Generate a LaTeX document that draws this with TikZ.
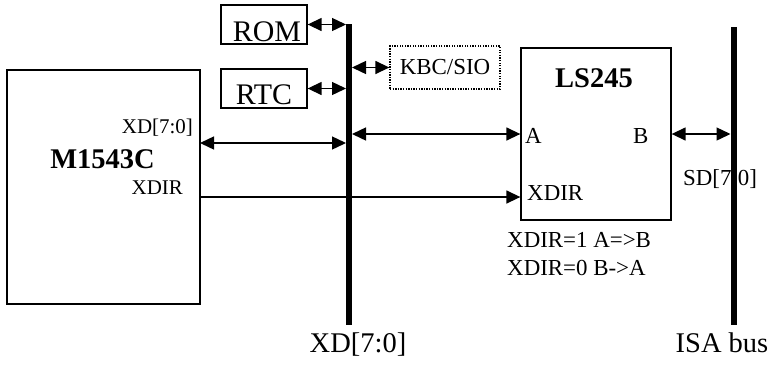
\documentclass[tikz,border=0pt]{standalone}
\usepackage{fontspec}
\setmainfont{Liberation Serif}
\usepackage{tikz}
\usetikzlibrary{arrows.meta,calc}
\newcommand{\pinfont}{\fontsize{23}{25}\selectfont}
\newcommand{\chipfont}{\fontsize{28.6}{30}\selectfont\bfseries}
\newcommand{\busfont}{\fontsize{28.6}{30}\selectfont}
\newcommand{\romfont}{\fontsize{30}{32}\selectfont}
\tikzset{
  chip/.style={draw,line width=1.3bp,inner sep=0pt},
  link/.style={line width=1.4bp},
  tip/.tip={Triangle[length=14bp,width=13bp]},
  both/.style={arrows={tip-tip}},
  into/.style={arrows={-tip}},
  busline/.style={line width=6bp},
}
\begin{document}
\begin{tikzpicture}[line join=miter,x=1bp,y=-1bp]
\useasboundingbox (0,0) rectangle (770,371);
\node[chip,minimum width=193bp,minimum height=234bp] (m1543c) at (103.5,187) {};
\node[chip,minimum width=86bp,minimum height=39bp] (rom) at (264,24.5) {};
\node[chip,minimum width=86bp,minimum height=39bp] (rtc) at (264,88.5) {};
\node[draw,line width=1.3bp,dash pattern=on 1.3bp off 1.3bp,inner sep=0pt,minimum width=110bp,minimum height=43bp,font=\pinfont] (kbc) at (445,67.5) {KBC/SIO};
\node[chip,minimum width=150bp,minimum height=172bp] (ls245) at (596,134) {};
% texts
\node[anchor=base,inner sep=0pt,font=\chipfont] (m1543cname) at (102.5,168) {M1543C};
\node[anchor=base east,inner sep=0pt,font=\fontsize{21}{23}\selectfont] (xdname) at (193,133) {XD[7:0]};
\node[anchor=base east,inner sep=0pt,font=\fontsize{21}{23}\selectfont] (xdirname) at (183,194) {XDIR};
\node[anchor=base,inner sep=0pt,font=\romfont] (romname) at (267,41) {ROM};
\node[anchor=base,inner sep=0pt,font=\romfont] (rtcname) at (264,104.5) {RTC};
\node[anchor=base,inner sep=0pt,font=\chipfont] (ls245name) at (594,87) {LS245};
\node[anchor=base west,inner sep=0pt,font=\pinfont] (aname) at (525,143) {A};
\node[anchor=base west,inner sep=0pt,font=\pinfont] (bname) at (633,143) {B};
\node[anchor=base west,inner sep=0pt,font=\pinfont] (dirname) at (527,200) {XDIR};
\node[anchor=base west,inner sep=0pt,font=\pinfont] (truth1) at (507,247) {XDIR=1 A=>B};
\node[anchor=base west,inner sep=0pt,font=\pinfont] (truth0) at (507,275) {XDIR=0 B->A};
\node[anchor=base west,inner sep=0pt,font=\pinfont] (sdname) at (683,185) {SD[7:0]};
\node[anchor=base,inner sep=0pt,font=\busfont] (xdbus) at (358,352) {XD[7:0]};
\node[anchor=base,inner sep=0pt,font=\busfont] (isabus) at (722,352) {ISA bus};
% buses
\coordinate (xdtop) at (349,24);
\coordinate (xdbot) at (349,325);
\coordinate (isatop) at (733.5,27);
\coordinate (isabot) at (733.5,325);
\coordinate (xdpin) at (200,143);
\coordinate (dirpin) at (200,197);
\draw[link,into] (dirpin) -- (dirpin -| ls245.west);
\draw[busline] (xdtop) -- (xdbot);
\draw[busline] (isatop) -- (isabot);
% links
\draw[link,both] (rom.east) -- ([xshift=-3bp]rom.east -| xdtop);
\draw[link,both] (rtc.east) -- ([xshift=-3bp]rtc.east -| xdtop);
\draw[link,both] ([xshift=3bp]kbc.west -| xdtop) -- (kbc.west);
\draw[link,both] (xdpin) -- ([xshift=-3bp]xdpin -| xdtop);
\draw[link,both] ([xshift=3bp]ls245.west -| xdtop) -- (ls245.west);
\draw[link,both] (ls245.east) -- ([xshift=-3bp]ls245.east -| isatop);
\end{tikzpicture}
\end{document}
